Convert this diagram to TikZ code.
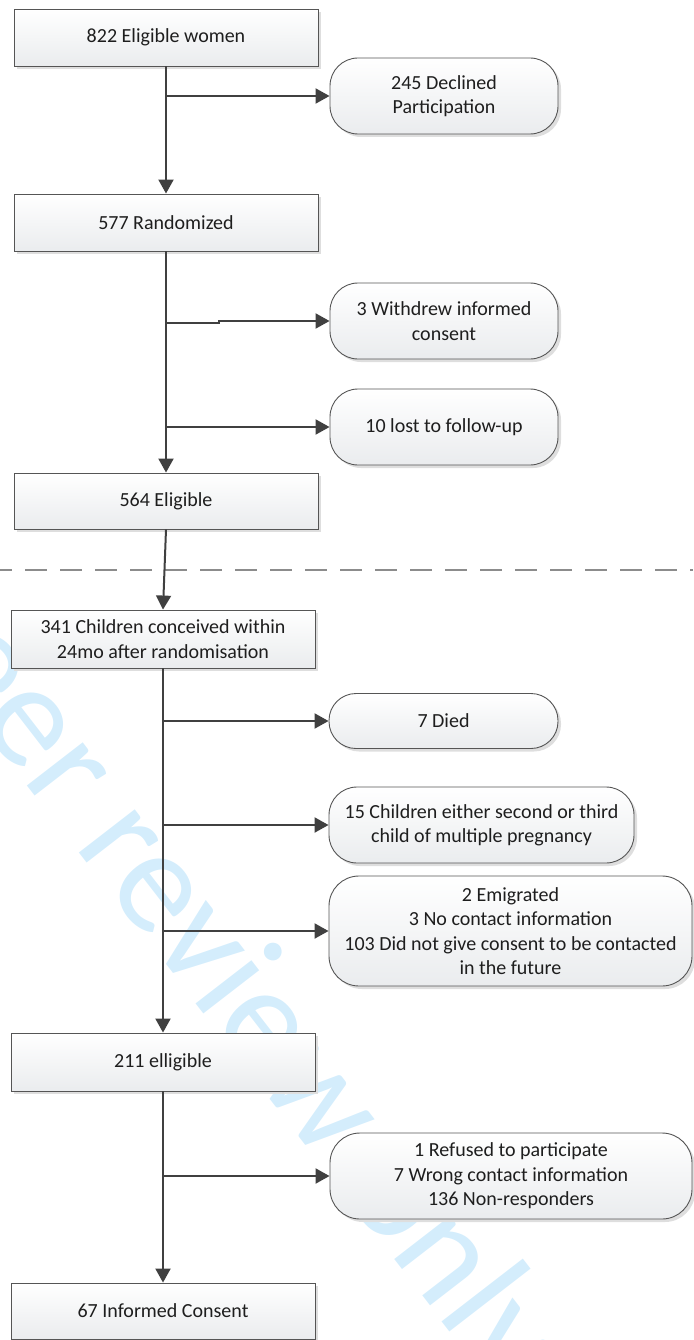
\documentclass[tikz,border=0pt]{standalone}
\usepackage{fontspec}
\setmainfont{Carlito}
\usetikzlibrary{arrows.meta,shadows}
\definecolor{wm}{RGB}{212,237,252}
\definecolor{linec}{RGB}{64,64,64}
\definecolor{borderc}{RGB}{85,85,85}
\definecolor{fillb}{RGB}{234,236,238}
\definecolor{txt}{RGB}{30,30,30}
\definecolor{dashc}{RGB}{140,140,140}
\tikzset{
  base/.style={draw=borderc, line width=0.9pt, top color=white, bottom color=fillb,
    inner sep=0pt, align=center, text=txt,
    font=\fontsize{20}{24.4}\selectfont,
    drop shadow={shadow xshift=3pt, shadow yshift=-3pt, fill=black!13, opacity=1}},
  box/.style={base, minimum width=304pt, minimum height=57pt},
  pill/.style={base, rounded corners=28pt},
  arr/.style={draw=linec, line width=2pt, -{Triangle[length=14pt,width=15pt]}},
  sep/.style={draw=dashc, line width=2pt, dash pattern=on 22pt off 13pt, dash phase=10pt}
}
\begin{document}
\begin{tikzpicture}[x=1pt,y=-1pt]
\useasboundingbox (0,0) rectangle (693,1340);
\begin{scope}
\clip (0,0) rectangle (693,1340);
\node[rotate=-52.3, text=wm, inner sep=0pt, font=\fontsize{148}{148}\selectfont] (wmk) at (152,882) {For peer review only};
\end{scope}

% main boxes
\node[box] (n1) at (166,37.5) {822 Eligible women};
\node[box] (n2) at (166,222.5) {577 Randomized};
\node[box, minimum height=56pt] (n3) at (166,501) {564 Eligible};
\node[box, minimum height=58pt] (n4) at (163,639) {341 Children conceived within\\24mo after randomisation};
\node[box, minimum height=58pt] (n5) at (163,1062) {211 elligible};
\node[box, minimum height=56pt] (n6) at (163,1311) {67 Informed Consent};

% side boxes
\node[pill, minimum width=228pt, minimum height=76pt] (p1) at (444,96) {245 Declined\\Participation};
\node[pill, minimum width=228pt, minimum height=76pt] (p2) at (444,321) {3 Withdrew informed\\consent};
\node[pill, minimum width=228pt, minimum height=76pt] (p3) at (444,427) {10 lost to follow-up};
\node[pill, rounded corners=27pt, minimum width=229pt, minimum height=55pt] (p4) at (443.5,721) {7 Died};
\node[pill, minimum width=305pt, minimum height=76pt] (p5) at (481.5,825) {15 Children either second or third\\child of multiple pregnancy};
\node[pill, rounded corners=30pt, minimum width=363pt, minimum height=110pt] (p6) at (510.5,931) {2 Emigrated\\3 No contact information\\103 Did not give consent to be contacted\\in the future};
\node[pill, rounded corners=30pt, minimum width=362pt, minimum height=86pt] (p7) at (511,1176) {1 Refused to participate\\7 Wrong contact information\\136 Non-responders};

% separator
\draw[sep] (0,570) -- (693,570);

% trunks
\draw[arr] (n1.south) -- (n2.north);
\draw[arr] (n2.south) -- (n3.north);
\draw[arr] (n3.south) -- (n4.north);
\draw[arr] (n4.south) -- (n5.north);
\draw[arr] (n5.south) -- (n6.north);

% branch points
\coordinate (b1) at (n1.south |- p1.west);
\coordinate (b2) at (n2.south |- p2.west);
\coordinate (b3) at (n2.south |- p3.west);
\coordinate (b4) at (n4.south |- p4.west);
\coordinate (b5) at (n4.south |- p5.west);
\coordinate (b6) at (n4.south |- p6.west);
\coordinate (b7) at (n5.south |- p7.west);

\draw[arr] (b1) -- (p1.west);
\draw[arr] (b2) ++(0,2) -- ++(53,0) -- ++(0,-2) -- (p2.west);
\draw[arr] (b3) -- (p3.west);
\draw[arr] (b4) -- (p4.west);
\draw[arr] (b5) -- (p5.west);
\draw[arr] (b6) -- (p6.west);
\draw[arr] (b7) -- (p7.west);
\end{tikzpicture}
\end{document}
